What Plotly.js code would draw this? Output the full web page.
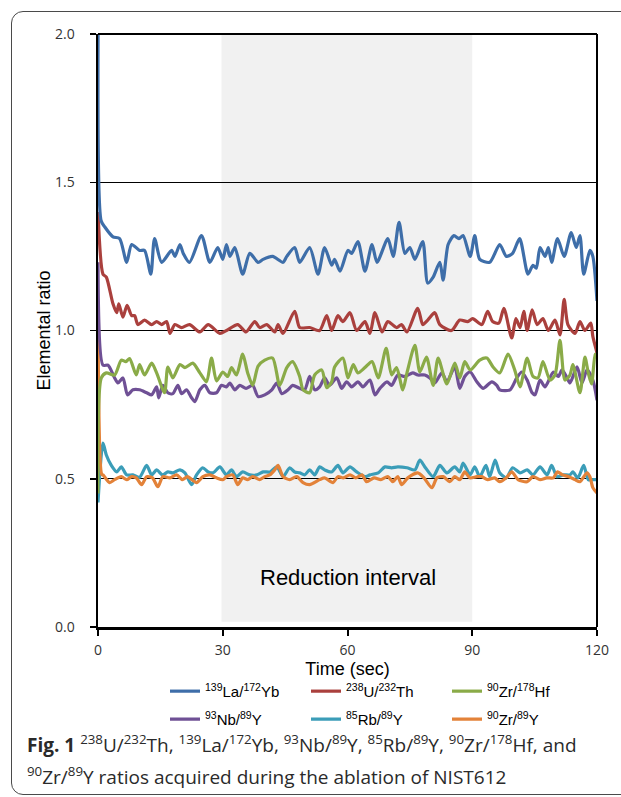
<!DOCTYPE html>
<html>
<head>
<meta charset="utf-8">
<script src="https://cdn.plot.ly/plotly-3.0.1.min.js"></script>
<style>
  html, body { margin: 0; padding: 0; background: #fff; overflow: hidden; }
  #wrap { position: relative; width: 621px; height: 797px; }
  #chart { position: absolute; left: 0; top: 0; width: 621px; height: 797px; }
  #frame { position: absolute; left: 11px; top: 11px; width: 660px; height: 782px;
           border: 1.5px solid #4a4a4a; border-radius: 12px; pointer-events: none; }
</style>
</head>
<body>
<div id="wrap"><div id="chart"></div><div id="frame"></div></div>
<script>
// ---- Data ----
const seriesNames = ["<sup>139</sup>La/<sup>172</sup>Yb", "<sup>238</sup>U/<sup>232</sup>Th", "<sup>90</sup>Zr/<sup>178</sup>Hf",
                     "<sup>93</sup>Nb/<sup>89</sup>Y", "<sup>85</sup>Rb/<sup>89</sup>Y", "<sup>90</sup>Zr/<sup>89</sup>Y"];
const xTicks = [0, 30, 60, 90, 120];
const yTicks = [0.0, 0.5, 1.0, 1.5, 2.0];
const reductionInterval = [30, 90];

const laYbT = [0.35,0.75,1.6,3.6,5.2,6.9,8.1,10,11.2,12.7, 13.6,15.3,17.7,18.5,19.7,20.5,22,24.9,26.9,28.8,
  30,30.9,31.7,32.9,34.8,36.5,38.5,39.7,42,44.5, 45.4,47.3,48.5,50.9,52.9,54.5,56.2,56.9,58.2,60.1,
  61,62.5,64.2,65.9,67.1,69.7,71,72.4,73.8,75, 76.2,78.1,79.3,80.6,82.2,83,84.2,85.6,86.8,87.8,
  89.5,90.6,91.8,94.2,96.6,98.2,99.7,101.4,103.4,104.6, 105.4,106.3,107.5,108.3,109.1,110.5,112.1,113.8,115,115.9,
  116.8,118.3,119,120];
const laYbV = [2.6,1.37,1.35,1.316,1.31,1.23,1.29,1.27,1.27,1.19, 1.31,1.23,1.27,1.25,1.29,1.26,1.23,1.32,1.23,1.28,
  1.24,1.29,1.25,1.28,1.19,1.26,1.23,1.24,1.25,1.23, 1.25,1.28,1.23,1.28,1.19,1.28,1.22,1.24,1.20,1.27,
  1.26,1.30,1.20,1.29,1.23,1.31,1.25,1.365,1.26,1.28, 1.24,1.30,1.16,1.18,1.23,1.17,1.29,1.32,1.31,1.32,
  1.25,1.32,1.24,1.23,1.29,1.25,1.26,1.31,1.19,1.22, 1.21,1.28,1.25,1.28,1.23,1.31,1.25,1.33,1.28,1.32,
  1.19,1.27,1.25,1.10];

const uThT = [0,1.2,2,3.6,4.5,5,6,7,8.1,8.8, 9.6,11.2,12.9,14.1,15.3,16.5,17.3,18.5,20.1,22,
  24.5,26.5,29.3,30.9,33.6,35.6,37.7,38.9,40.6,42.5, 43.3,44.5,47.3,48.5,50.9,53.3,55,56.2,57.7,58.9,
  60.6,62.2,64.2,65.4,66.6,68.3,69.7,71.8,73,74.3, 76.9,78.1,79.3,81,82.2,85,87,88.9,90.1,92.3,
  93.7,94.9,96.4,97.6,99.5,100.5,101.5,102.4,103.2,104.4, 105.6,107,108.3,109.9,111.1,112.1,113,114.7,115.9,117.1,
  118.5,119,120];
const uThV = [1.40,1.19,1.18,1.09,1.06,1.09,1.045,1.085,1.05,1.05, 1.02,1.035,1.02,1.03,1.02,1.03,0.99,1.02,1.01,1.02,
  0.995,1.02,0.99,1.00,1.02,0.995,1.03,1.01,1.02,0.995, 1.02,0.99,1.065,1.01,1.01,1.00,1.05,1.00,1.05,1.03,
  1.06,1.00,1.03,0.99,1.06,0.995,1.03,1.01,1.02,0.995, 1.075,1.02,1.035,1.06,1.02,1.00,1.035,1.03,1.04,1.02,
  1.065,1.03,1.025,1.075,0.975,1.04,1.01,1.065,1.00,1.07, 1.02,1.04,1.00,1.035,0.985,1.105,1.02,0.99,1.03,1.00,
  1.025,0.98,0.925];

const zrHfT = [0,0.8,2,4,5.6,6.7,7.6,9.2,10,11.2, 12.9,14.1,16,16.8,18,19.7,20.9,22.8,24.5,26.1,
  27.3,28.5,30,31.2,32.1,33.3,34.8,36,37.2,38.5, 40.1,42,43.7,45.4,46.8,48.5,49.3,50.9,52.1,53.8,
  55,56.2,56.9,58.9,60.1,61.4,62.5,64.2,65.9,67.4, 69.3,70.6,71.8,73.3,74.3,76.2,77.4,79,80.6,81.8,
  83.9,85.8,87,88.2,89.5,91.8,93.5,95,96.6,98.6, 100.2,101.5,103.2,104.6,105.8,107,108.7,109.9,111.1,112.3,
  113.5,114.2,115.9,117.1,117.9,118.7,119.6,120];
const zrHfV = [0.45,0.84,0.857,0.85,0.90,0.895,0.905,0.85,0.885,0.85, 0.89,0.857,0.79,0.877,0.84,0.885,0.875,0.89,0.857,0.827,
  0.907,0.83,0.86,0.845,0.875,0.85,0.92,0.857,0.815,0.88, 0.90,0.907,0.815,0.875,0.895,0.845,0.80,0.79,0.85,0.867,
  0.807,0.827,0.877,0.907,0.84,0.885,0.857,0.875,0.895,0.84, 0.94,0.85,0.875,0.80,0.857,0.95,0.86,0.91,0.815,0.907,
  0.82,0.89,0.84,0.895,0.867,0.90,0.907,0.877,0.857,0.92, 0.867,0.81,0.907,0.845,0.84,0.895,0.833,0.85,0.967,0.833,
  0.85,0.885,0.79,0.91,0.857,0.82,0.92,0.92];

const nbYT = [0,1.2,2.4,4,4.8,6,7.1,8.4,10,11.7, 12.9,14.1,14.6,15.6,16.8,18,19.2,20.1,21.3,22.5,
  23.3,24.5,25.7,26.9,28.5,29.7,30.9,31.7,32.9,34.1, 35.6,37.2,38.5,40.1,41.8,43,44.2,45.7,46.8,48.5,
  49.7,50.9,52.1,53.3,54.5,55.7,57.4,58.6,59.8,61, 62.5,63.7,65.4,66.6,67.8,69.5,70.6,72.1,73.8,75.7,
  76.9,78.6,79.8,81,82.7,83.9,85.8,87,88.2,89.5, 91.1,92.6,94.7,95.9,96.6,99.1,100.7,101.9,103.2,104.4,
  105.1,106.3,107.5,109.5,110.7,111.6,112.8,113.5,115.2,116.4, 117.6,119,120];
const nbYV = [1.23,0.883,0.883,0.84,0.823,0.84,0.783,0.80,0.80,0.79, 0.783,0.81,0.773,0.815,0.79,0.787,0.815,0.787,0.80,0.773,
  0.76,0.80,0.815,0.79,0.79,0.815,0.81,0.823,0.80,0.815, 0.805,0.815,0.777,0.783,0.80,0.823,0.787,0.80,0.815,0.805,
  0.80,0.845,0.80,0.81,0.84,0.815,0.84,0.805,0.827,0.81, 0.827,0.81,0.833,0.783,0.805,0.827,0.815,0.85,0.845,0.857,
  0.85,0.85,0.84,0.823,0.857,0.827,0.877,0.805,0.845,0.86, 0.827,0.805,0.827,0.815,0.80,0.80,0.84,0.86,0.833,0.79,
  0.783,0.833,0.81,0.86,0.845,0.867,0.84,0.823,0.877,0.823, 0.867,0.833,0.765];

const rbYT = [0,1.2,2,3.2,4.5,5.6,6.9,8.4,10,11.7, 12.9,14.1,15.5,16.8,18,19.7,20.9,22.5,23.7,25.2,
  26.5,27.7,29.3,30.9,32.1,33.3,34.8,36.5,38.2,39.7, 41.4,43,44.5,46.1,47.3,48.5,49.7,50.9,52.1,53.3,
  54.5,56.2,57.7,58.9,60.6,62.2,64.2,65.4,67.4,69, 70.6,72.1,74.3,76.2,77.4,78.6,80.6,82.2,83.9,85.8,
  87,87.8,89.5,90.6,91.8,93.3,94.2,95.5,96.6,98.2, 99.7,101.5,103.2,104.6,106.3,108,109.1,110.4,111.9,113.5,
  114.2,115.4,116.8,117.9,119,120];
const rbYV = [0.42,0.62,0.58,0.545,0.523,0.54,0.513,0.513,0.505,0.545, 0.513,0.53,0.513,0.523,0.52,0.53,0.52,0.48,0.513,0.537,
  0.523,0.52,0.54,0.513,0.53,0.507,0.523,0.513,0.513,0.523, 0.523,0.54,0.507,0.537,0.523,0.52,0.513,0.53,0.513,0.54,
  0.53,0.523,0.545,0.52,0.54,0.523,0.507,0.513,0.52,0.54, 0.537,0.54,0.537,0.53,0.563,0.54,0.507,0.545,0.52,0.54,
  0.523,0.553,0.513,0.54,0.507,0.545,0.507,0.563,0.52,0.503, 0.537,0.52,0.53,0.513,0.54,0.513,0.545,0.507,0.513,0.513,
  0.523,0.503,0.545,0.497,0.497,0.497];

const zrYT = [0,0.9,1.2,2.8,4,5.6,6.9,8.1,9.2,10.5, 11.7,13.1,14.4,15.6,17.3,18.9,20.3,21.5,23.7,25.2,
  26.9,28.5,30,30.9,32.4,33.6,34.8,36,37.2,38.9, 40.1,41.3,42.5,43.3,44.5,46.1,47.8,49.3,50.9,53.3,
  54.5,56.5,57.7,59,60.6,62,63.5,64.6,66.4,68, 69.7,70.9,72.1,73,74.5,76.9,78.4,80.3,81.5,83,
  84.6,85.8,87,88.2,89.4,91.1,92.3,93.7,95.4,96.6, 98.2,99.5,101,103.2,104.6,106.3,107.9,109.5,110.5,111.7,
  113.2,114.7,115.9,117.6,118.3,119,120];
const zrYV = [1.05,0.515,0.513,0.487,0.497,0.507,0.497,0.507,0.503,0.48, 0.507,0.503,0.473,0.507,0.503,0.513,0.497,0.507,0.487,0.507,
  0.513,0.503,0.497,0.507,0.513,0.48,0.503,0.497,0.507,0.497, 0.507,0.513,0.53,0.545,0.507,0.497,0.507,0.487,0.48,0.497,
  0.503,0.487,0.507,0.503,0.513,0.503,0.513,0.49,0.503,0.497, 0.507,0.49,0.507,0.48,0.503,0.52,0.503,0.47,0.503,0.507,
  0.49,0.507,0.497,0.523,0.503,0.507,0.507,0.497,0.503,0.49, 0.503,0.523,0.497,0.49,0.507,0.497,0.503,0.503,0.523,0.513,
  0.507,0.497,0.49,0.52,0.507,0.47,0.452];

const seriesColors = ["#3e6ea9", "#aa403d", "#8aab48", "#6f5095", "#3b9db8", "#e38239"];

// ---- Layout geometry (pixels) ----
const W = 621, H = 797;
const M = {l: 98, r: 24, t: 33.5, b: 169.5};
const plotW = W - M.l - M.r, plotH = H - M.t - M.b;
const px = x => (x - M.l) / plotW;          // pixel x -> paper x
const py = y => (H - M.b - y) / plotH;      // pixel y -> paper y

const xs = [laYbT, uThT, zrHfT, nbYT, rbYT, zrYT];
const ys = [laYbV, uThV, zrHfV, nbYV, rbYV, zrYV];
const drawOrder = [4, 5, 3, 2, 1, 0];
const traces = drawOrder.map(i => ({
  type: "scatter", mode: "lines", x: xs[i], y: ys[i], name: seriesNames[i],
  line: {color: seriesColors[i], width: 3.2, shape: "spline", smoothing: 0.7},
  legend: i < 3 ? "legend" : "legend2",
  legendrank: i + 1,
  hoverinfo: "skip"
}));

const legendCommon = {
  orientation: "h", xanchor: "left", yanchor: "middle",
  entrywidth: 96, entrywidthmode: "pixels", traceorder: "normal",
  font: {family: "Liberation Sans, Arial, sans-serif", size: 15, color: "#000"},
  bgcolor: "rgba(0,0,0,0)", borderwidth: 0
};

const tickFont = {family: "Open Sans, Noto Sans, sans-serif", size: 14, color: "#333"};
const capFont = {family: "Open Sans, Noto Sans, sans-serif", size: 19, color: "#2a2a2a"};

const layout = {
  width: W, height: H, margin: M,
  paper_bgcolor: "#fff", plot_bgcolor: "#fff",
  showlegend: true,
  xaxis: {
    range: [0, 120], tickvals: xTicks, ticktext: xTicks.map(String),
    ticks: "outside", ticklen: 6, tickwidth: 2, tickcolor: "#000",
    showline: true, linewidth: 2.5, linecolor: "#000", showgrid: false, zeroline: false,
    tickfont: tickFont, ticklabelstandoff: 3,
    title: {text: "Time (sec)", font: {family: "Liberation Sans, Arial, sans-serif", size: 18, color: "#000"}, standoff: 0},
    fixedrange: true
  },
  yaxis: {
    range: [0, 2], tickvals: yTicks, ticktext: yTicks.map(v => v.toFixed(1)),
    ticks: "outside", ticklen: 6, tickwidth: 1.5, tickcolor: "#000",
    showline: true, linewidth: 2.5, linecolor: "#000",
    showgrid: true, gridcolor: "#000", gridwidth: 1.3, zeroline: false,
    tickfont: tickFont, ticklabelstandoff: 12,
    title: {text: "Elemental ratio", font: {family: "Liberation Sans, Arial, sans-serif", size: 18, color: "#000"}, standoff: 0},
    fixedrange: true
  },
  legend: Object.assign({}, legendCommon, {x: px(165), y: py(692)}),
  legend2: Object.assign({}, legendCommon, {x: px(165), y: py(720)}),
  shapes: [
    {type: "rect", xref: "x", yref: "y", x0: reductionInterval[0] - 0.3, x1: reductionInterval[1],
     y0: 0.018, y1: 2, fillcolor: "#f1f1f1", line: {width: 0}, layer: "below"},
    {type: "line", xref: "paper", yref: "paper", x0: 0, x1: 1, y0: 1, y1: 1, line: {color: "#000", width: 2}},
    {type: "line", xref: "paper", yref: "paper", x0: 1, x1: 1, y0: 0, y1: 1, line: {color: "#000", width: 2}}
  ],
  annotations: [
    {xref: "x", yref: "y", x: (reductionInterval[0] + reductionInterval[1]) / 2, y: 0.166,
     text: "Reduction interval", showarrow: false,
     font: {family: "Liberation Sans, Arial, sans-serif", size: 22, color: "#000"}},
    {xref: "paper", yref: "paper", x: px(25), y: py(745), xanchor: "left", yanchor: "middle", showarrow: false,
     text: "<b>Fig. 1</b> <sup>238</sup>U/<sup>232</sup>Th, <sup>139</sup>La/<sup>172</sup>Yb, <sup>93</sup>Nb/<sup>89</sup>Y, <sup>85</sup>Rb/<sup>89</sup>Y, <sup>90</sup>Zr/<sup>178</sup>Hf, and",
     font: capFont},
    {xref: "paper", yref: "paper", x: px(25), y: py(777), xanchor: "left", yanchor: "middle", showarrow: false,
     text: "<sup>90</sup>Zr/<sup>89</sup>Y ratios acquired during the ablation of NIST612",
     font: capFont}
  ]
};

Plotly.newPlot("chart", traces, layout, {displayModeBar: false, staticPlot: true});
</script>
</body>
</html>
